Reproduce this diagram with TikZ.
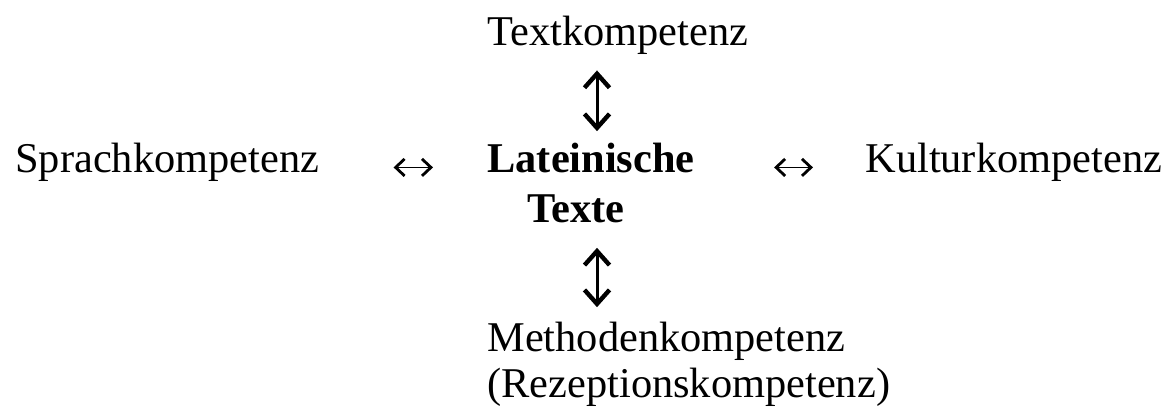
\documentclass[tikz,border=0pt]{standalone}
\usepackage{fontspec}
\setmainfont{Liberation Serif}
\usepackage{tikz}
\usetikzlibrary{positioning,arrows.meta}

\begin{document}
\begin{tikzpicture}[x=1pt,y=1pt,
    word/.style={inner sep=0pt, anchor=base west, font=\fontsize{21.2}{23}\selectfont},
    varrow/.style={{Straight Barb[length=7pt,width=12.5pt,line width=2.2pt]}-{Straight Barb[length=7pt,width=12.5pt,line width=2.2pt]}, line width=1.5pt},
    harrow/.style={{Straight Barb[length=4.5pt,width=8.5pt,line width=1.4pt]}-{Straight Barb[length=4.5pt,width=8.5pt,line width=1.4pt]}, line width=0.9pt}]
    \useasboundingbox (0,0) rectangle (583.5,-204);
    \node[word] (textk) at (243.5,-22.5) {Textkompetenz};
    \node[word] (sprach) at (7.5,-86) {Sprachkompetenz};
    \node[word, font=\fontsize{21.2}{23}\selectfont\bfseries] (latein) at (243.5,-86) {Lateinische};
    \node[word, font=\fontsize{21.2}{23}\selectfont\bfseries] (texte) at (263.5,-111) {Texte};
    \node[word] (kultur) at (432.5,-86) {Kulturkompetenz};
    \node[word] (methoden) at (243.5,-175.5) {Methodenkompetenz};
    \node[word] (rezeption) at (243.5,-198.5) {(Rezeptionskompetenz)};

    \draw[varrow, shorten <=8pt, shorten >=5.5pt] ([xshift=55pt]textk.south west) -- ([xshift=55pt]textk.south west |- latein.north);
    \draw[varrow, shorten <=12.5pt, shorten >=7pt] ([xshift=55pt]textk.south west |- texte.south) -- ([xshift=55pt]textk.south west |- methoden.north);
    \draw[harrow, shorten <=37pt, shorten >=27pt] (sprach.mid east) -- (latein.mid west);
    \draw[harrow, shorten <=39.5pt, shorten >=26pt] (latein.mid east) -- (kultur.mid west);
\end{tikzpicture}
\end{document}
